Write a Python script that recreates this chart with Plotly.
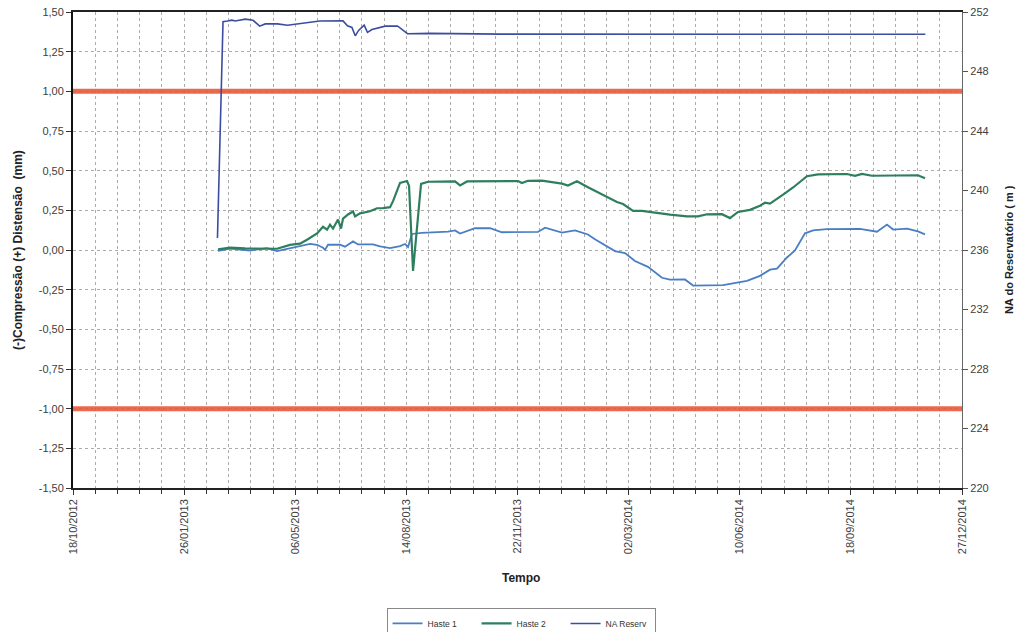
import pandas as pd
import plotly.graph_objects as go

# ---------------- data ----------------
# time is given as days elapsed since 18/10/2012 (the first axis date)
BASE_DATE = "2012-10-18"

haste1_day = [130.5, 141.3, 159.3, 174.6, 183.6, 192.6, 204.3, 213.3, 219.6, 225.0,
              226.8, 229.5, 240.3, 244.8, 252.0, 256.5, 270.0, 276.3, 285.3, 294.3,
              298.8, 301.5, 305.0, 314.0, 337.5, 343.8, 348.3, 361.8, 375.3, 386.0,
              418.4, 424.8, 440.0, 451.7, 463.4, 469.7, 487.7, 496.7, 505.7, 517.4,
              530.0, 537.2, 550.7, 558.0, 585.0, 606.5, 618.2, 627.2, 633.5, 642.5,
              649.7, 658.7, 666.0, 678.5, 708.2, 723.5, 732.5, 738.0, 750.5, 760.4,
              766.7]
haste1_mm = [-0.005, 0.009, -0.003, 0.011, -0.007, 0.006, 0.026, 0.038, 0.033, 0.014,
             0.001, 0.033, 0.034, 0.021, 0.054, 0.035, 0.036, 0.023, 0.012, 0.025,
             0.038, 0.019, 0.101, 0.108, 0.116, 0.123, 0.104, 0.137, 0.138, 0.112,
             0.114, 0.141, 0.110, 0.124, 0.098, 0.068, -0.007, -0.019, -0.069, -0.106,
             -0.175, -0.187, -0.186, -0.224, -0.222, -0.195, -0.163, -0.124, -0.118, -0.047,
             -0.003, 0.105, 0.124, 0.131, 0.133, 0.115, 0.160, 0.129, 0.135, 0.117,
             0.098]

haste2_day = [130.5, 141.3, 154.8, 174.6, 183.6, 195.3, 204.3, 210.6, 219.6, 225.0,
              228.6, 231.3, 234.0, 238.5, 241.2, 243.0, 247.5, 252.0, 253.8, 258.3,
              267.3, 273.6, 279.0, 285.3, 288.0, 294.3, 300.6, 302.4, 306.0, 313.2,
              319.5, 343.8, 348.3, 354.6, 400.5, 404.0, 409.4, 422.0, 440.0, 445.4,
              453.5, 463.4, 476.0, 489.5, 495.0, 504.0, 512.0, 523.7, 537.2, 552.5,
              562.4, 570.5, 584.0, 591.2, 598.4, 609.2, 618.2, 622.7, 627.2, 639.0,
              648.0, 660.5, 670.4, 696.5, 703.7, 710.0, 719.0, 760.4, 766.7]
haste2_mm = [0.004, 0.015, 0.010, 0.007, 0.008, 0.032, 0.040, 0.065, 0.104, 0.146,
             0.128, 0.160, 0.135, 0.192, 0.135, 0.198, 0.224, 0.243, 0.212, 0.231,
             0.244, 0.263, 0.264, 0.270, 0.308, 0.423, 0.435, 0.404, -0.132, 0.417,
             0.430, 0.432, 0.407, 0.432, 0.435, 0.422, 0.436, 0.437, 0.418, 0.406,
             0.433, 0.395, 0.352, 0.302, 0.290, 0.247, 0.247, 0.235, 0.223, 0.212,
             0.212, 0.225, 0.226, 0.201, 0.240, 0.253, 0.279, 0.298, 0.292, 0.349,
             0.394, 0.465, 0.477, 0.479, 0.467, 0.480, 0.468, 0.471, 0.452]

na_day = [130, 135, 139, 143, 146, 155, 162, 168, 173, 184,
          193, 204, 222, 243, 247, 251, 254, 257, 262, 265,
          269, 281, 292, 301, 321, 384, 474, 564, 654, 767]
na_m = [236.80, 251.35, 251.39, 251.45, 251.40, 251.52, 251.44, 251.05, 251.20, 251.20,
        251.11, 251.20, 251.39, 251.40, 251.07, 250.96, 250.40, 250.76, 251.12, 250.63,
        250.82, 251.05, 251.06, 250.54, 250.56, 250.51, 250.50, 250.50, 250.49, 250.50]

limit_day = [0, 800]
limit_upper = [1.00, 1.00]
limit_lower = [-1.00, -1.00]

x_tick_labels = ["18/10/2012", "26/01/2013", "06/05/2013", "14/08/2013", "22/11/2013",
                 "02/03/2014", "10/06/2014", "18/09/2014", "27/12/2014"]
y_tick_values = [1.50, 1.25, 1.00, 0.75, 0.50, 0.25, 0.00, -0.25, -0.50, -0.75,
                 -1.00, -1.25, -1.50]
y_tick_labels = ["1,50", "1,25", "1,00", "0,75", "0,50", "0,25", "0,00", "-0,25", "-0,50",
                 "-0,75", "-1,00", "-1,25", "-1,50"]
y2_tick_values = [220, 224, 228, 232, 236, 240, 244, 248, 252]

series_names = ["Haste 1", "Haste 2", "NA Reserv"]
y_title = "(-)Compressão (+) Distensão  (mm)"
y2_title = "NA do Reservatório ( m )"
x_title = "Tempo"

# ---------------- helpers ----------------
base = pd.Timestamp(BASE_DATE)


def to_dates(days):
    return [base + pd.Timedelta(days=float(d)) for d in days]


x_tick_vals = list(pd.to_datetime(x_tick_labels, dayfirst=True))

FONT = "Liberation Sans, Arial, sans-serif"
C_H1 = "#4A7EC4"
C_H2 = "#2E7F5E"
C_NA = "#3C4DA0"
C_RED = "#E95A3A"
GRID = "#ababab"

fig = go.Figure()

# limit lines
for lim in (limit_upper, limit_lower):
    fig.add_trace(go.Scatter(x=to_dates(limit_day), y=lim, mode="lines",
                             line=dict(color=C_RED, width=5), opacity=0.9,
                             showlegend=False, hoverinfo="skip"))

fig.add_trace(go.Scatter(x=to_dates(haste1_day), y=haste1_mm, mode="lines",
                         name=series_names[0], line=dict(color=C_H1, width=1.8)))
fig.add_trace(go.Scatter(x=to_dates(haste2_day), y=haste2_mm, mode="lines",
                         name=series_names[1], line=dict(color=C_H2, width=2.2)))
fig.add_trace(go.Scatter(x=to_dates(na_day), y=na_m, mode="lines",
                         name=series_names[2], line=dict(color=C_NA, width=1.6),
                         yaxis="y2"))

fig.update_layout(
    width=1018, height=632,
    paper_bgcolor="white", plot_bgcolor="white",
    margin=dict(l=73, r=56, t=12, b=144, autoexpand=False),
    font=dict(family=FONT, size=11, color="#404040"),
    separators=", ",
    xaxis=dict(
        automargin=False,
        range=[x_tick_vals[0], x_tick_vals[-1]],
        tickmode="array", tickvals=x_tick_vals, ticktext=x_tick_labels,
        tickangle=-90, tickfont=dict(size=11, color="#404040"),
        ticks="outside", ticklen=5, tickcolor="#333",
        showgrid=True, gridcolor=GRID, griddash="dot", gridwidth=1,
        minor=dict(tick0=BASE_DATE, dtick=20 * 86400000, showgrid=True,
                   gridcolor=GRID, griddash="dot", gridwidth=1,
                   ticks="outside", ticklen=4, tickcolor="#333"),
        showline=True, linecolor="#222", linewidth=1.5, mirror=True,
        zeroline=False,
    ),
    yaxis=dict(
        automargin=False,
        range=[-1.5, 1.5],
        tickmode="array", tickvals=y_tick_values, ticktext=y_tick_labels,
        tickfont=dict(size=11, color="#404040"),
        ticks="outside", ticklen=5, tickcolor="#333",
        showgrid=True, gridcolor=GRID, griddash="dot", gridwidth=1,
        showline=True, linecolor="#111", linewidth=2, mirror=False,
        zeroline=False,
    ),
    yaxis2=dict(
        automargin=False,
        range=[220, 252], overlaying="y", side="right",
        tickmode="array", tickvals=y2_tick_values,
        tickfont=dict(size=11, color="#404040"),
        ticks="outside", ticklen=5, tickcolor="#555",
        showgrid=False, showline=True, linecolor="#666", linewidth=1.2,
        zeroline=False,
    ),
    legend=dict(orientation="h", x=0.504, xanchor="center", y=-0.252, yanchor="top",
                font=dict(size=8.5, color="#333"), bordercolor="#888", borderwidth=1,
                bgcolor="white", itemwidth=30, traceorder="normal",
                entrywidth=44, entrywidthmode="pixels"),
    showlegend=True,
    hovermode="x",
    annotations=[
        dict(text="<b>%s</b>" % y_title, xref="paper", yref="paper",
             x=-0.062, y=0.5, xanchor="center", yanchor="middle", textangle=-90,
             showarrow=False, font=dict(size=12, color="#222")),
        dict(text="<b>%s</b>" % y2_title, xref="paper", yref="paper",
             x=1.053, y=0.5, xanchor="center", yanchor="middle", textangle=-90,
             showarrow=False, font=dict(size=11, color="#222")),
        dict(text="<b>%s</b>" % x_title, xref="paper", yref="paper",
             x=0.504, y=-0.189, xanchor="center", yanchor="middle",
             showarrow=False, font=dict(size=12, color="#222")),
    ],
)

# remove the default 8 px page margin so the 1018x632 figure fills the window exactly
fig.write_html("out.html",
               config={"displayModeBar": False},
               post_script="document.body.style.margin='0px';"
                           "document.body.style.overflow='hidden';")
